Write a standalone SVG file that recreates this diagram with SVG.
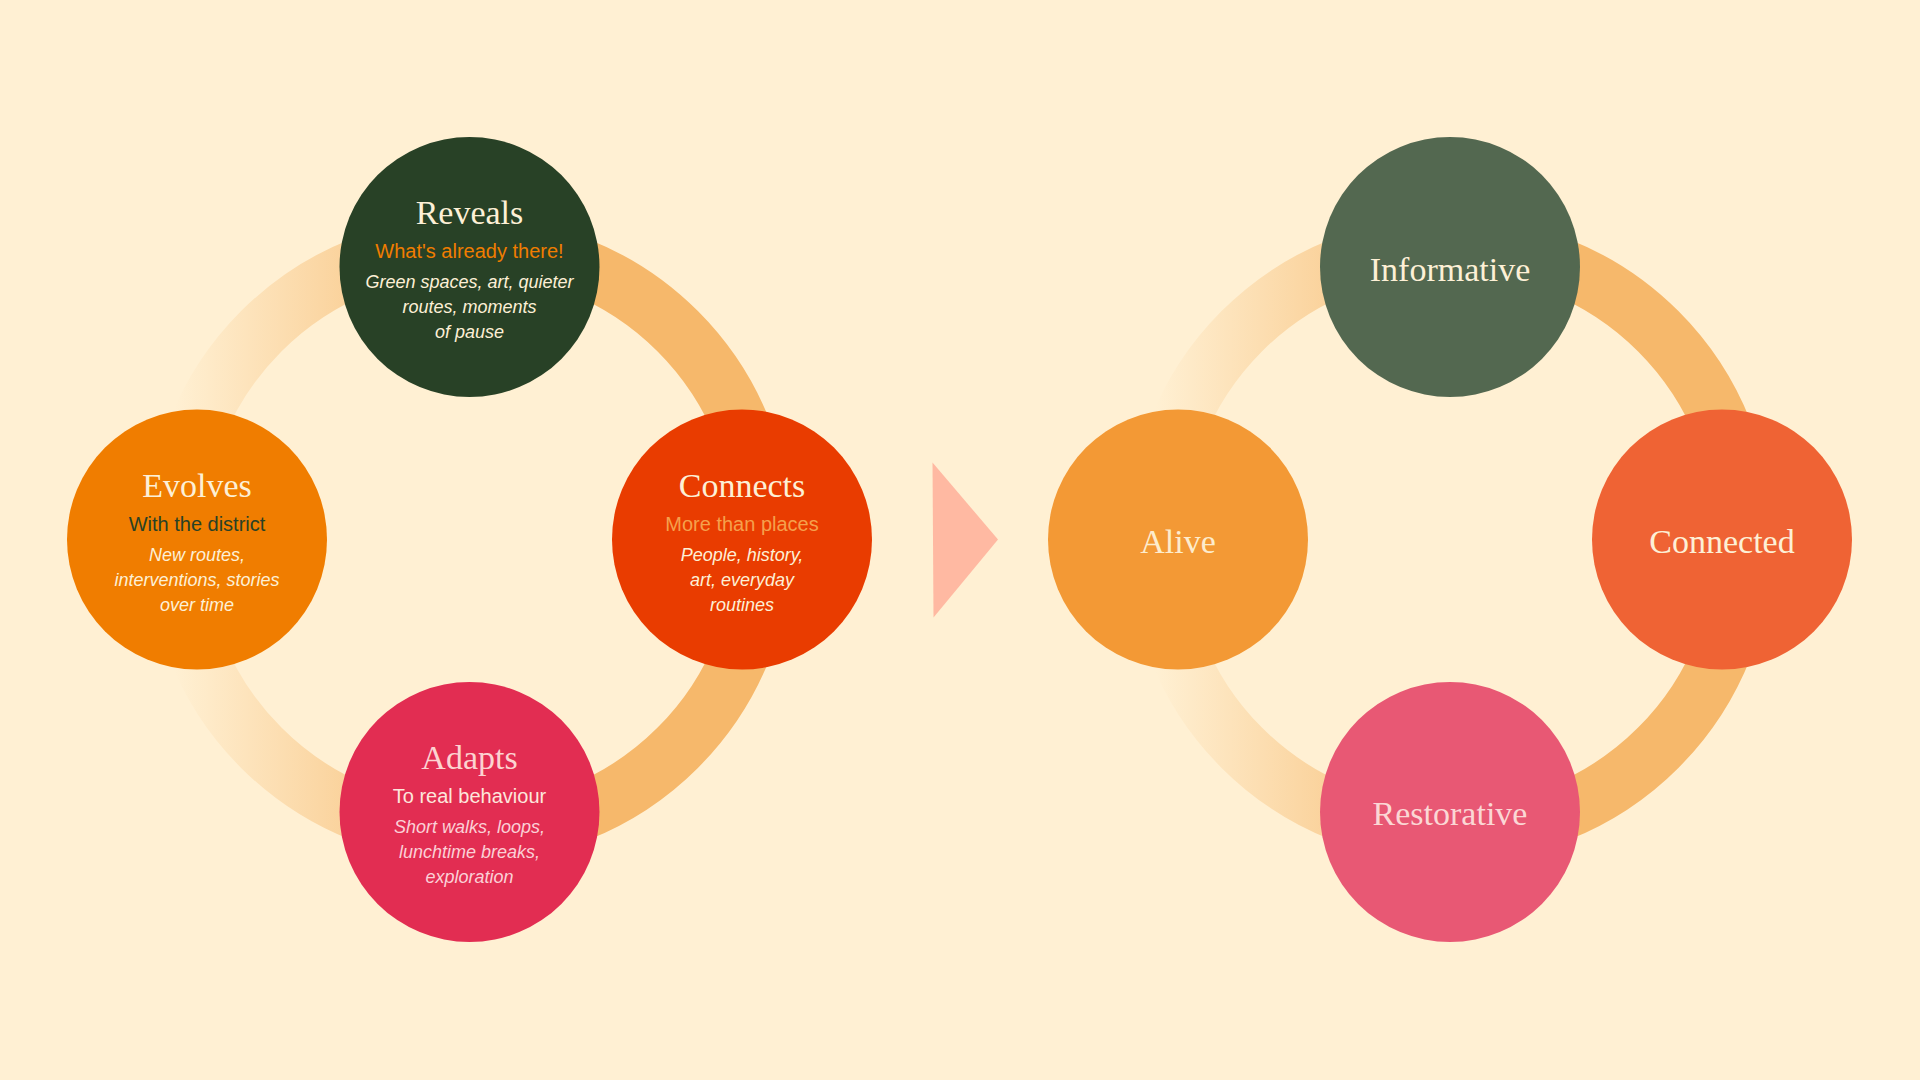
<svg xmlns="http://www.w3.org/2000/svg" width="1920" height="1080" viewBox="0 0 1920 1080">
<defs>
<linearGradient id="ringGrad" x1="0" y1="0" x2="0.55" y2="0">
<stop offset="0" stop-color="#f6b86b" stop-opacity="0"/>
<stop offset="1" stop-color="#f6b86b" stop-opacity="1"/>
</linearGradient>
<style>
.ring{fill:none;stroke:url(#ringGrad);stroke-width:57}
.title{font-family:"Liberation Serif","DejaVu Serif",serif;font-size:34px;text-anchor:middle}
.sub{font-family:"Liberation Sans",Arial,sans-serif;font-size:20px;text-anchor:middle}
.body{font-family:"Liberation Sans",Arial,sans-serif;font-size:18px;font-style:italic;text-anchor:middle}
.cream{fill:#fdf0d6}
</style>
</defs>
<rect width="1920" height="1080" fill="#fff0d3"/>
<g id="connectors">
<circle class="ring" cx="469.5" cy="539.5" r="294.5"/>
<circle class="ring" cx="1450" cy="539.5" r="294.5"/>
<polygon points="932.5,462.5 998,539.5 933.5,617.5" fill="#ffb9a2"/>
</g>
<g id="reveals">
<circle cx="469.5" cy="267" r="130" fill="#284126"/>
<text class="title cream" x="469.5" y="224">Reveals</text>
<text class="sub" x="469.5" y="258" fill="#f07d00">What's already there!</text>
<text class="body cream" x="469.5" y="288">Green spaces, art, quieter</text>
<text class="body cream" x="469.5" y="313">routes, moments</text>
<text class="body cream" x="469.5" y="338">of pause</text>
</g>
<g id="evolves">
<circle cx="197" cy="539.5" r="130" fill="#f07d00"/>
<text class="title cream" x="197" y="496.5">Evolves</text>
<text class="sub" x="197" y="530.5" fill="#284126">With the district</text>
<text class="body cream" x="197" y="560.5">New routes,</text>
<text class="body cream" x="197" y="585.5">interventions, stories</text>
<text class="body cream" x="197" y="610.5">over time</text>
</g>
<g id="connects">
<circle cx="742" cy="539.5" r="130" fill="#e93c00"/>
<text class="title cream" x="742" y="496.5">Connects</text>
<text class="sub" x="742" y="530.5" fill="#f5a04c">More than places</text>
<text class="body cream" x="742" y="560.5">People, history,</text>
<text class="body cream" x="742" y="585.5">art, everyday</text>
<text class="body cream" x="742" y="610.5">routines</text>
</g>
<g id="adapts">
<circle cx="469.5" cy="812" r="130" fill="#e22d52"/>
<text class="title" x="469.5" y="769" fill="#fcd3d1">Adapts</text>
<text class="sub" x="469.5" y="803" fill="#fde6dc">To real behaviour</text>
<text class="body" x="469.5" y="833" fill="#fbd0d6">Short walks, loops,</text>
<text class="body" x="469.5" y="858" fill="#fbd0d6">lunchtime breaks,</text>
<text class="body" x="469.5" y="883" fill="#fbd0d6">exploration</text>
</g>
<g id="informative">
<circle cx="1450" cy="267" r="130" fill="#536850"/>
<text class="title cream" x="1450" y="281">Informative</text>
</g>
<g id="alive">
<circle cx="1178" cy="539.5" r="130" fill="#f39935"/>
<text class="title" x="1178" y="553" fill="#fdeccd">Alive</text>
</g>
<g id="connected">
<circle cx="1722" cy="539.5" r="130" fill="#ef6334"/>
<text class="title cream" x="1722" y="553">Connected</text>
</g>
<g id="restorative">
<circle cx="1450" cy="812" r="130" fill="#e85874"/>
<text class="title" x="1450" y="825" fill="#fbd7d5">Restorative</text>
</g>
</svg>
